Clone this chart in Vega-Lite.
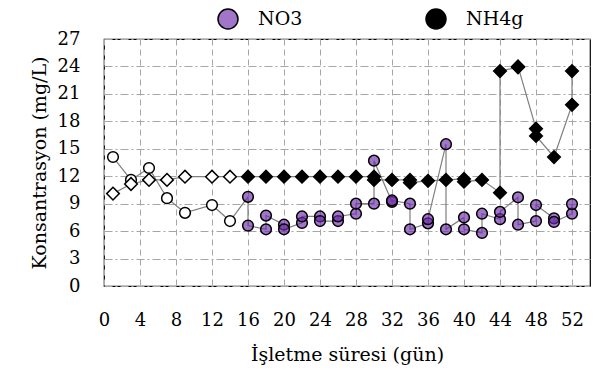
{
  "$schema": "https://vega.github.io/schema/vega-lite/v6.json",
  "width": 486,
  "height": 247,
  "autosize": "none",
  "padding": {"left": 104, "top": 39, "right": 24, "bottom": 84},
  "background": "white",
  "config": {
    "view": {"stroke": "#000000", "strokeWidth": 1.2},
    "font": "DejaVu Serif",
    "legend": {
      "title": null,
      "orient": "none",
      "direction": "horizontal",
      "legendX": 113,
      "legendY": -31,
      "padding": 0,
      "symbolSize": 400,
      "labelFont": "DejaVu Serif",
      "labelFontSize": 19,
      "labelColor": "#000000",
      "labelOffset": 19,
      "columnPadding": 120
    }
  },
  "data": {
    "values": [
      {"series": "NO3", "ord": 1, "day": 1, "conc": 14.1},
      {"series": "NO3", "ord": 2, "day": 3, "conc": 11.6},
      {"series": "NO3", "ord": 3, "day": 5, "conc": 12.9},
      {"series": "NO3", "ord": 4, "day": 7, "conc": 9.6},
      {"series": "NO3", "ord": 5, "day": 9, "conc": 8.0},
      {"series": "NO3", "ord": 6, "day": 12, "conc": 8.85},
      {"series": "NO3", "ord": 7, "day": 14, "conc": 7.1},
      {"series": "NO3", "ord": 8, "day": 16, "conc": 9.75},
      {"series": "NO3", "ord": 9, "day": 16, "conc": 6.6},
      {"series": "NO3", "ord": 10, "day": 18, "conc": 6.2},
      {"series": "NO3", "ord": 11, "day": 18, "conc": 7.7},
      {"series": "NO3", "ord": 12, "day": 20, "conc": 6.7},
      {"series": "NO3", "ord": 13, "day": 20, "conc": 6.2},
      {"series": "NO3", "ord": 14, "day": 22, "conc": 6.9},
      {"series": "NO3", "ord": 15, "day": 22, "conc": 7.6},
      {"series": "NO3", "ord": 16, "day": 24, "conc": 7.6},
      {"series": "NO3", "ord": 17, "day": 24, "conc": 7.1},
      {"series": "NO3", "ord": 18, "day": 26, "conc": 7.1},
      {"series": "NO3", "ord": 19, "day": 26, "conc": 7.6},
      {"series": "NO3", "ord": 20, "day": 28, "conc": 7.9},
      {"series": "NO3", "ord": 21, "day": 28, "conc": 9.0},
      {"series": "NO3", "ord": 22, "day": 30, "conc": 9.0},
      {"series": "NO3", "ord": 23, "day": 30, "conc": 13.7},
      {"series": "NO3", "ord": 24, "day": 32, "conc": 9.2},
      {"series": "NO3", "ord": 25, "day": 32, "conc": 9.35},
      {"series": "NO3", "ord": 26, "day": 34, "conc": 9.0},
      {"series": "NO3", "ord": 27, "day": 34, "conc": 6.2},
      {"series": "NO3", "ord": 28, "day": 36, "conc": 6.85},
      {"series": "NO3", "ord": 29, "day": 36, "conc": 7.3},
      {"series": "NO3", "ord": 30, "day": 38, "conc": 15.5},
      {"series": "NO3", "ord": 31, "day": 38, "conc": 6.2},
      {"series": "NO3", "ord": 32, "day": 40, "conc": 7.5},
      {"series": "NO3", "ord": 33, "day": 40, "conc": 6.2},
      {"series": "NO3", "ord": 34, "day": 42, "conc": 5.8},
      {"series": "NO3", "ord": 35, "day": 42, "conc": 7.9},
      {"series": "NO3", "ord": 36, "day": 44, "conc": 7.3},
      {"series": "NO3", "ord": 37, "day": 44, "conc": 8.1},
      {"series": "NO3", "ord": 38, "day": 46, "conc": 9.7},
      {"series": "NO3", "ord": 39, "day": 46, "conc": 6.7},
      {"series": "NO3", "ord": 40, "day": 48, "conc": 7.1},
      {"series": "NO3", "ord": 41, "day": 48, "conc": 8.85},
      {"series": "NO3", "ord": 42, "day": 50, "conc": 7.4},
      {"series": "NO3", "ord": 43, "day": 50, "conc": 7.0},
      {"series": "NO3", "ord": 44, "day": 52, "conc": 7.9},
      {"series": "NO3", "ord": 45, "day": 52, "conc": 8.95},
      {"series": "NH4g", "ord": 1, "day": 1, "conc": 10.1},
      {"series": "NH4g", "ord": 2, "day": 3, "conc": 11.15},
      {"series": "NH4g", "ord": 3, "day": 5, "conc": 11.6},
      {"series": "NH4g", "ord": 4, "day": 7, "conc": 11.6},
      {"series": "NH4g", "ord": 5, "day": 9, "conc": 11.95},
      {"series": "NH4g", "ord": 6, "day": 12, "conc": 11.95},
      {"series": "NH4g", "ord": 7, "day": 14, "conc": 11.95},
      {"series": "NH4g", "ord": 8, "day": 16, "conc": 11.95},
      {"series": "NH4g", "ord": 9, "day": 18, "conc": 11.95},
      {"series": "NH4g", "ord": 10, "day": 20, "conc": 11.95},
      {"series": "NH4g", "ord": 11, "day": 22, "conc": 11.95},
      {"series": "NH4g", "ord": 12, "day": 24, "conc": 11.95},
      {"series": "NH4g", "ord": 13, "day": 26, "conc": 11.95},
      {"series": "NH4g", "ord": 14, "day": 28, "conc": 11.95},
      {"series": "NH4g", "ord": 15, "day": 30, "conc": 11.95},
      {"series": "NH4g", "ord": 16, "day": 30, "conc": 11.6},
      {"series": "NH4g", "ord": 17, "day": 32, "conc": 11.6},
      {"series": "NH4g", "ord": 18, "day": 34, "conc": 11.6},
      {"series": "NH4g", "ord": 19, "day": 34, "conc": 11.3},
      {"series": "NH4g", "ord": 20, "day": 36, "conc": 11.5},
      {"series": "NH4g", "ord": 21, "day": 38, "conc": 11.6},
      {"series": "NH4g", "ord": 22, "day": 40, "conc": 11.7},
      {"series": "NH4g", "ord": 23, "day": 40, "conc": 11.4},
      {"series": "NH4g", "ord": 24, "day": 42, "conc": 11.6},
      {"series": "NH4g", "ord": 25, "day": 44, "conc": 10.2},
      {"series": "NH4g", "ord": 26, "day": 44, "conc": 23.5},
      {"series": "NH4g", "ord": 27, "day": 46, "conc": 23.9},
      {"series": "NH4g", "ord": 28, "day": 46, "conc": 24.0},
      {"series": "NH4g", "ord": 29, "day": 48, "conc": 17.2},
      {"series": "NH4g", "ord": 30, "day": 48, "conc": 16.4},
      {"series": "NH4g", "ord": 31, "day": 50, "conc": 14.1},
      {"series": "NH4g", "ord": 32, "day": 52, "conc": 19.8},
      {"series": "NH4g", "ord": 33, "day": 52, "conc": 23.5}
    ]
  },
  "encoding": {
    "x": {
      "field": "day",
      "type": "quantitative",
      "scale": {"domain": [0, 54], "nice": false, "zero": false},
      "axis": {
        "values": [0, 4, 8, 12, 16, 20, 24, 28, 32, 36, 40, 44, 48, 52],
        "title": "İşletme süresi (gün)",
        "labelFont": "DejaVu Serif",
        "labelFontSize": 18,
        "labelColor": "#000000",
        "labelPadding": 25,
        "titleFont": "DejaVu Serif",
        "titleFontSize": 19,
        "titleFontWeight": "normal",
        "titleColor": "#000000",
        "titlePadding": 16,
        "ticks": false,
        "domain": false,
        "grid": true,
        "gridColor": "#a6a6a6",
        "gridWidth": 1,
        "gridDash": [6, 4],
        "labelFlush": false,
        "labelOverlap": false
      }
    },
    "y": {
      "field": "conc",
      "type": "quantitative",
      "scale": {"domain": [0, 27], "nice": false},
      "axis": {
        "values": [0, 3, 6, 9, 12, 15, 18, 21, 24, 27],
        "title": "Konsantrasyon (mg/L)",
        "labelFont": "DejaVu Serif",
        "labelFontSize": 18,
        "labelColor": "#000000",
        "labelPadding": 24,
        "titleFont": "DejaVu Serif",
        "titleFontSize": 19,
        "titleFontWeight": "normal",
        "titleColor": "#000000",
        "titlePadding": 8,
        "ticks": false,
        "domain": false,
        "grid": true,
        "gridColor": "#a6a6a6",
        "gridWidth": 1,
        "gridDash": [8, 3, 2, 3],
        "labelFlush": false,
        "labelOverlap": false
      }
    }
  },
  "layer": [
    {
      "mark": {"type": "line", "color": "#7f7f7f", "strokeWidth": 1.2},
      "encoding": {
        "detail": {"field": "series", "type": "nominal"},
        "order": {"field": "ord", "type": "quantitative"}
      }
    },
    {
      "mark": {"type": "point", "filled": true, "stroke": "#000000", "strokeWidth": 1.5, "opacity": 1},
      "encoding": {
        "shape": {
          "field": "series",
          "type": "nominal",
          "scale": {"domain": ["NH4g", "NO3"], "range": ["diamond", "circle"]},
          "legend": null
        },
        "fill": {
          "field": "series",
          "type": "nominal",
          "scale": {"domain": ["NO3", "NH4g"], "range": ["rgba(110,45,170,0.65)", "#000000"]},
          "condition": {"test": "datum.day < 16", "value": "#ffffff"},
          "legend": {
            "encode": {
              "symbols": {
                "shape": {
                  "condition": {"test": "datum.value === 'NO3'", "value": "M-3.8,0H-1.65M-0.55,0H1.6M-1.65,0A0.55,0.55,0,1,0,-0.55,0A0.55,0.55,0,1,0,-1.65,0Z"},
                  "value": "M-3.6,0H1.4M-1.1,-0.65L-0.45,0L-1.1,0.65L-1.75,0Z"
                },
                "stroke": {"value": "#000000"},
                "strokeWidth": {"value": 1.5}
              }
            }
          }
        },
        "size": {
          "field": "series",
          "type": "nominal",
          "scale": {"domain": ["NH4g", "NO3"], "range": [160, 115]},
          "legend": null
        }
      }
    }
  ]
}
